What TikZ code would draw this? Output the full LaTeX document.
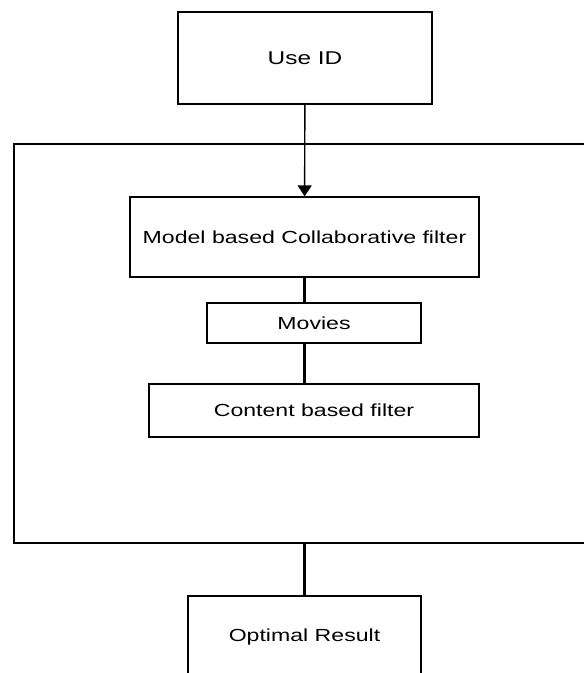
\documentclass[tikz,border=0pt]{standalone}
\usepackage{fontspec}
\setmainfont{Liberation Sans}
\usetikzlibrary{arrows.meta}
\tikzset{
    box/.style={rectangle,draw,line width=1.3pt,inner sep=0pt,font=\fontsize{17.5}{20}\selectfont},
    frame/.style={rectangle,draw,line width=1.6pt,inner sep=0pt},
    pre/.style={-{Triangle[length=11pt,width=14pt]},line width=1.4pt},
    bond/.style={-,line width=3pt}
}
\newcommand{\wide}[1]{\scalebox{1.32}[1]{#1}}

\begin{document}
\begin{tikzpicture}[x=1pt,y=-1pt]

    \clip (0,0) rectangle (584,673);
    \useasboundingbox (0,0) rectangle (584,673);

    \node[frame, minimum width=606pt, minimum height=399pt] (frame) at (317,343.5) {};

    \node[box, minimum width=254pt, minimum height=92pt,
          font=\fontsize{18.5}{22}\selectfont] (use id)  at (305,58)    {\wide{Use ID}};
    \node[box, minimum width=349pt, minimum height=80pt] (model)   at (304.5,237) {\wide{Model based Collaborative filter}};
    \node[box, minimum width=214pt, minimum height=40pt] (movies)  at (314,323)   {\wide{Movies}};
    \node[box, minimum width=330pt, minimum height=53pt] (content) at (314,410.5) {\wide{Content based filter}};
    \node[box, minimum width=233pt, minimum height=82pt] (result)  at (304.5,637) {\wide{Optimal Result}};

    \draw[pre]  (use id) -- (model);
    \draw[bond] (model.south) -- (model.south |- movies.north);
    \draw[bond] (movies.south -| model.south) -- (content.north -| model.south);
    \draw[bond] (result.north |- frame.south) -- (result.north);

\end{tikzpicture}
\end{document}
